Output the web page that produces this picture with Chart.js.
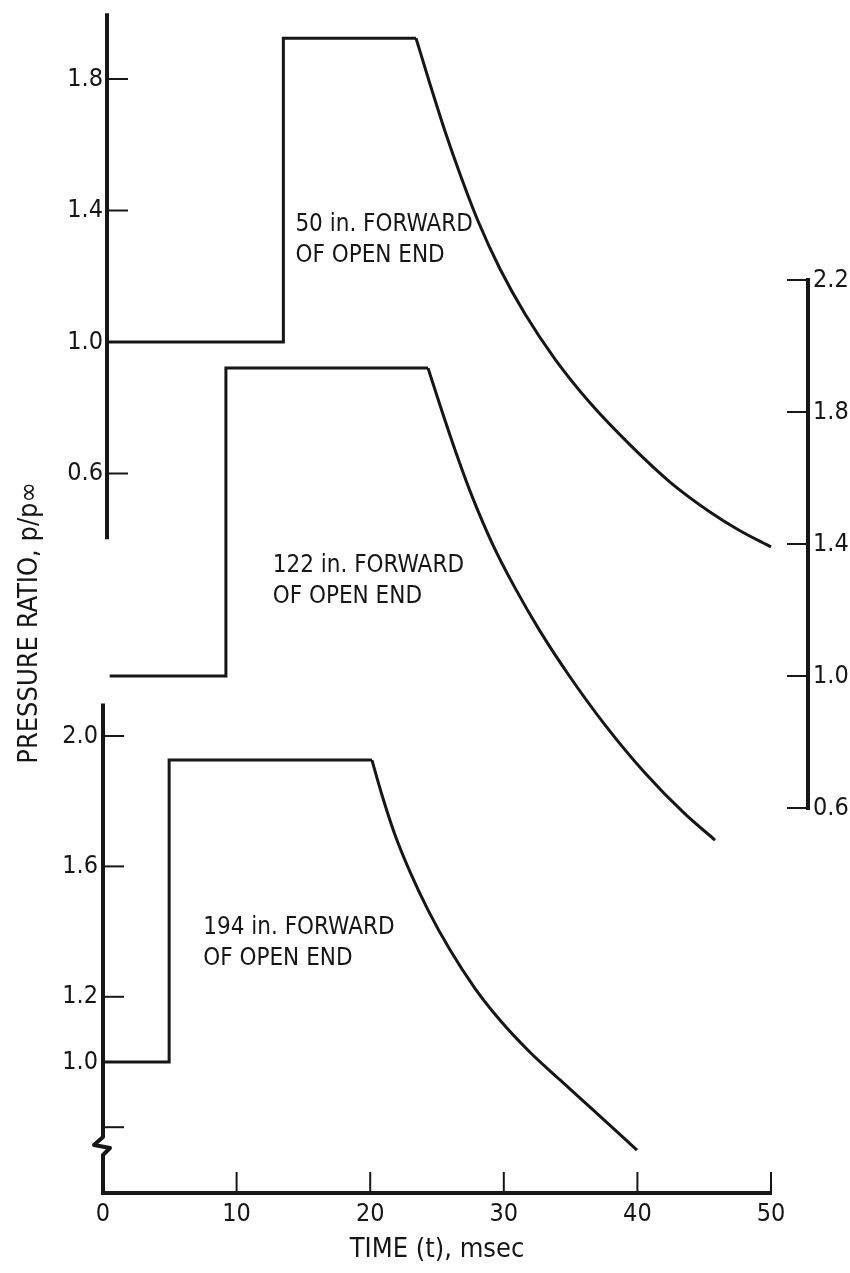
<!DOCTYPE html>
<html>
<head>
<meta charset="utf-8">
<title>Pressure ratio vs time</title>
<script src="https://cdn.jsdelivr.net/npm/chart.js@4.4.1/dist/chart.umd.min.js"></script>
<style>
html,body{margin:0;padding:0;background:#fff;}
canvas{display:block;}
</style>
</head>
<body>
<canvas id="chart" width="850" height="1273"></canvas>
<script>
// ---------------- data ----------------
const timeTicks = [0, 10, 20, 30, 40, 50];
const topTicks = [0.6, 1.0, 1.4, 1.8];            // upper left scale (50 in. trace)
const rightTicks = [0.6, 1.0, 1.4, 1.8, 2.2];     // right scale (122 in. trace)
const bottomTicks = [0.8, 1.0, 1.2, 1.6, 2.0];    // lower left scale (194 in. trace)
const bottomTickLabels = ['', '1.0', '1.2', '1.6', '2.0'];

// 50 in. forward of open end (first 4 points: step, rest: decay)
const time50  = [0.3, 13.5, 13.5, 23.43, 24.48, 25.60, 26.72, 28.07, 29.72, 31.59, 33.83, 36.45, 39.45, 42.44, 45.43, 47.68, 50.0];
const ratio50 = [1.0, 1.0, 1.924, 1.924, 1.784, 1.641, 1.511, 1.368, 1.222, 1.085, 0.948, 0.815, 0.687, 0.574, 0.483, 0.426, 0.377];

// 122 in. forward of open end
const time122  = [0.5, 9.2, 9.2, 24.33, 25.22, 26.35, 27.62, 29.12, 30.84, 32.71, 34.96, 37.57, 40.57, 43.56, 45.81];
const ratio122 = [1.0, 1.0, 1.933, 1.933, 1.821, 1.685, 1.545, 1.403, 1.267, 1.136, 0.997, 0.852, 0.706, 0.582, 0.503];

// 194 in. forward of open end
const time194  = [0.0, 4.95, 4.95, 20.13, 20.88, 21.86, 22.98, 24.33, 25.97, 27.84, 29.72, 31.96, 34.21, 36.68, 39.97];
const ratio194 = [1.0, 1.0, 1.926, 1.926, 1.819, 1.696, 1.583, 1.466, 1.344, 1.226, 1.128, 1.030, 0.945, 0.853, 0.730];

const traceLabels = [
  ['50 in. FORWARD', 'OF OPEN END'],
  ['122 in. FORWARD', 'OF OPEN END'],
  ['194 in. FORWARD', 'OF OPEN END']
];

// ---------------- layout & style (page pixels) ----------------
const INK = '#161616';
const FAMILY = "'DejaVu Sans Condensed', 'Liberation Sans Narrow', 'Liberation Sans', sans-serif";
const G = {
  areaTop: 53, areaBottom: 1193, areaLeft: 103, areaRight: 771,
  leftWidth: 103, rightGap: 37, rightAxisWidth: 42, xAxisHeight: 80,
  topAxisAt: 0.3,            // time value where the upper left scale line stands
  topLabelsAt: 0.0,          // time value where its labels end
  tickLen: 21, labelGap: 31
};
// value/pixel anchors for each y scale
function rangeFrom(v1, p1, v2, p2) {
  const k = (p1 - p2) / (v2 - v1);
  return { min: v1 - (G.areaBottom - p1) / k, max: v1 + (p1 - G.areaTop) / k };
}
const topRange = rangeFrom(1.0, 342, 1.8, 79);
const rightRange = rangeFrom(1.0, 676, 2.2, 280);
const bottomRange = rangeFrom(1.0, 1062, 2.0, 736);

const axisLines = {
  yT: { from: 0.4, to: 2.0, dir: 1 },
  yM: { from: 0.6, to: 2.2, dir: -1 },
  yB: { to: 2.1, breakAt: 0.77, dir: 1 }
};
const labelAnchors = [
  { axis: 'yT', t: 14.4, v: 1.337 },
  { axis: 'yM', t: 12.7, v: 1.315 },
  { axis: 'yB', t: 7.5, v: 1.393 }
];

// ---------------- build datasets from the arrays ----------------
function pts(ts, vs) { return ts.map((t, i) => ({ x: t, y: vs[i] })); }
function traceSets(ts, vs, axis) {
  const all = pts(ts, vs);
  const base = { borderColor: INK, borderWidth: 3, pointRadius: 0, clip: false,
                 borderJoinStyle: 'miter', borderCapStyle: 'butt', yAxisID: axis, fill: false };
  return [
    Object.assign({}, base, { data: all.slice(0, 4), tension: 0 }),
    Object.assign({}, base, { data: all.slice(3), cubicInterpolationMode: 'monotone' })
  ];
}
const datasets = [].concat(
  traceSets(time50, ratio50, 'yT'),
  traceSets(time122, ratio122, 'yM'),
  traceSets(time194, ratio194, 'yB')
);

Chart.defaults.font.family = FAMILY;
Chart.defaults.color = INK;

const tickFont = { size: 25, family: FAMILY };
const titleFont = { size: 27, family: FAMILY };
function fixedTicks(values) {
  return (s) => { s.ticks = values.map(v => ({ value: v })); };
}
function yAxisBase(range, values, extra) {
  return Object.assign({
    type: 'linear', min: range.min, max: range.max,
    afterBuildTicks: fixedTicks(values),
    grid: { display: false, drawTicks: false },
    border: { display: false },
    ticks: { padding: 5, font: tickFont, color: INK, autoSkip: false, callback: v => v.toFixed(1) }
  }, extra);
}

// axis lines, inward tick marks, axis break and trace labels
const artPlugin = {
  id: 'figureArt',
  afterDatasetsDraw(chart) {
    const ctx = chart.ctx, s = chart.scales;
    ctx.save();
    ctx.strokeStyle = INK;
    ctx.fillStyle = INK;
    ctx.lineCap = 'butt';

    function ticksAt(scale, x, values, dir) {
      ctx.lineWidth = 2;
      values.forEach(v => {
        const y = scale.getPixelForValue(v);
        ctx.beginPath(); ctx.moveTo(x, y); ctx.lineTo(x + dir * G.tickLen, y); ctx.stroke();
      });
    }
    // upper left axis
    let a = axisLines.yT, sc = s.yT, x = s.x.getPixelForValue(G.topAxisAt);
    ctx.lineWidth = 4;
    ctx.beginPath(); ctx.moveTo(x, sc.getPixelForValue(a.from)); ctx.lineTo(x, sc.getPixelForValue(a.to)); ctx.stroke();
    ticksAt(sc, x, topTicks, a.dir);

    // right axis
    a = axisLines.yM; sc = s.yM; x = sc.left;
    ctx.lineWidth = 4;
    ctx.beginPath(); ctx.moveTo(x, sc.getPixelForValue(a.from) + 2); ctx.lineTo(x, sc.getPixelForValue(a.to) - 2); ctx.stroke();
    ticksAt(sc, x, rightTicks, a.dir);

    // lower left axis with break
    a = axisLines.yB; sc = s.yB; x = sc.right;
    const yTop = sc.getPixelForValue(a.to);
    const yBr = sc.getPixelForValue(a.breakAt);
    const yBot = sc.getPixelForValue(sc.min);
    ctx.lineWidth = 4;
    ctx.lineJoin = 'round';
    ctx.beginPath();
    ctx.moveTo(x, yTop); ctx.lineTo(x, yBr);
    ctx.lineTo(x - 9, yBr + 8);
    ctx.lineTo(x + 7, yBr + 11);
    ctx.lineTo(x, yBr + 18);
    ctx.lineTo(x, yBot + 2);
    ctx.stroke();
    ticksAt(sc, x, bottomTicks, a.dir);

    // time axis
    sc = s.x;
    const yx = sc.top;
    ctx.lineWidth = 4;
    ctx.beginPath(); ctx.moveTo(sc.getPixelForValue(timeTicks[0]) - 2, yx); ctx.lineTo(sc.getPixelForValue(timeTicks[timeTicks.length - 1]) + 1, yx); ctx.stroke();
    ctx.lineWidth = 2;
    timeTicks.slice(1).forEach(v => {
      const px = sc.getPixelForValue(v);
      ctx.beginPath(); ctx.moveTo(px, yx); ctx.lineTo(px, yx - G.tickLen); ctx.stroke();
    });

    // trace labels
    ctx.font = '24px ' + FAMILY;
    ctx.textAlign = 'left';
    ctx.textBaseline = 'alphabetic';
    labelAnchors.forEach((an, i) => {
      const px = s.x.getPixelForValue(an.t);
      const py = s[an.axis].getPixelForValue(an.v);
      traceLabels[i].forEach((line, j) => ctx.fillText(line, px, py + j * G.labelGap));
    });
    ctx.restore();
  }
};

new Chart(document.getElementById('chart'), {
  type: 'line',
  data: { datasets },
  plugins: [artPlugin],
  options: {
    responsive: false,
    devicePixelRatio: 1,
    animation: false,
    events: [],
    layout: { padding: { top: G.areaTop, bottom: 0, left: 0, right: 0 } },
    plugins: { legend: { display: false }, tooltip: { enabled: false }, title: { display: false } },
    scales: {
      x: {
        type: 'linear', position: 'bottom', min: 0, max: 50,
        afterBuildTicks: fixedTicks(timeTicks),
        afterFit: (sc) => { sc.height = G.xAxisHeight; },
        grid: { display: false, drawTicks: false },
        border: { display: false },
        ticks: { padding: 6, font: tickFont, color: INK, autoSkip: false, maxRotation: 0, callback: v => String(v) },
        title: { display: true, text: 'TIME (t), msec', font: titleFont, color: INK, padding: { top: 0, bottom: 7 } }
      },
      yB: yAxisBase(bottomRange, bottomTicks, {
        position: 'left',
        afterFit: (sc) => { sc.width = G.leftWidth; },
        ticks: { padding: 5, font: tickFont, color: INK, autoSkip: false,
                 callback: v => bottomTickLabels[bottomTicks.indexOf(v)] },
        title: { display: true, text: 'PRESSURE RATIO, p/p\u221E', font: titleFont, color: INK, padding: { top: 14, bottom: 0 } }
      }),
      yT: yAxisBase(topRange, topTicks, {
        position: { x: G.topLabelsAt }
      }),
      gapR: {
        type: 'linear', position: 'right', weight: 0,
        ticks: { display: false }, grid: { display: false, drawTicks: false }, border: { display: false },
        afterFit: (sc) => { sc.width = G.rightGap; }
      },
      yM: yAxisBase(rightRange, rightTicks, {
        position: 'right', weight: 1,
        afterFit: (sc) => { sc.width = G.rightAxisWidth; }
      })
    }
  }
});
</script>
</body>
</html>
